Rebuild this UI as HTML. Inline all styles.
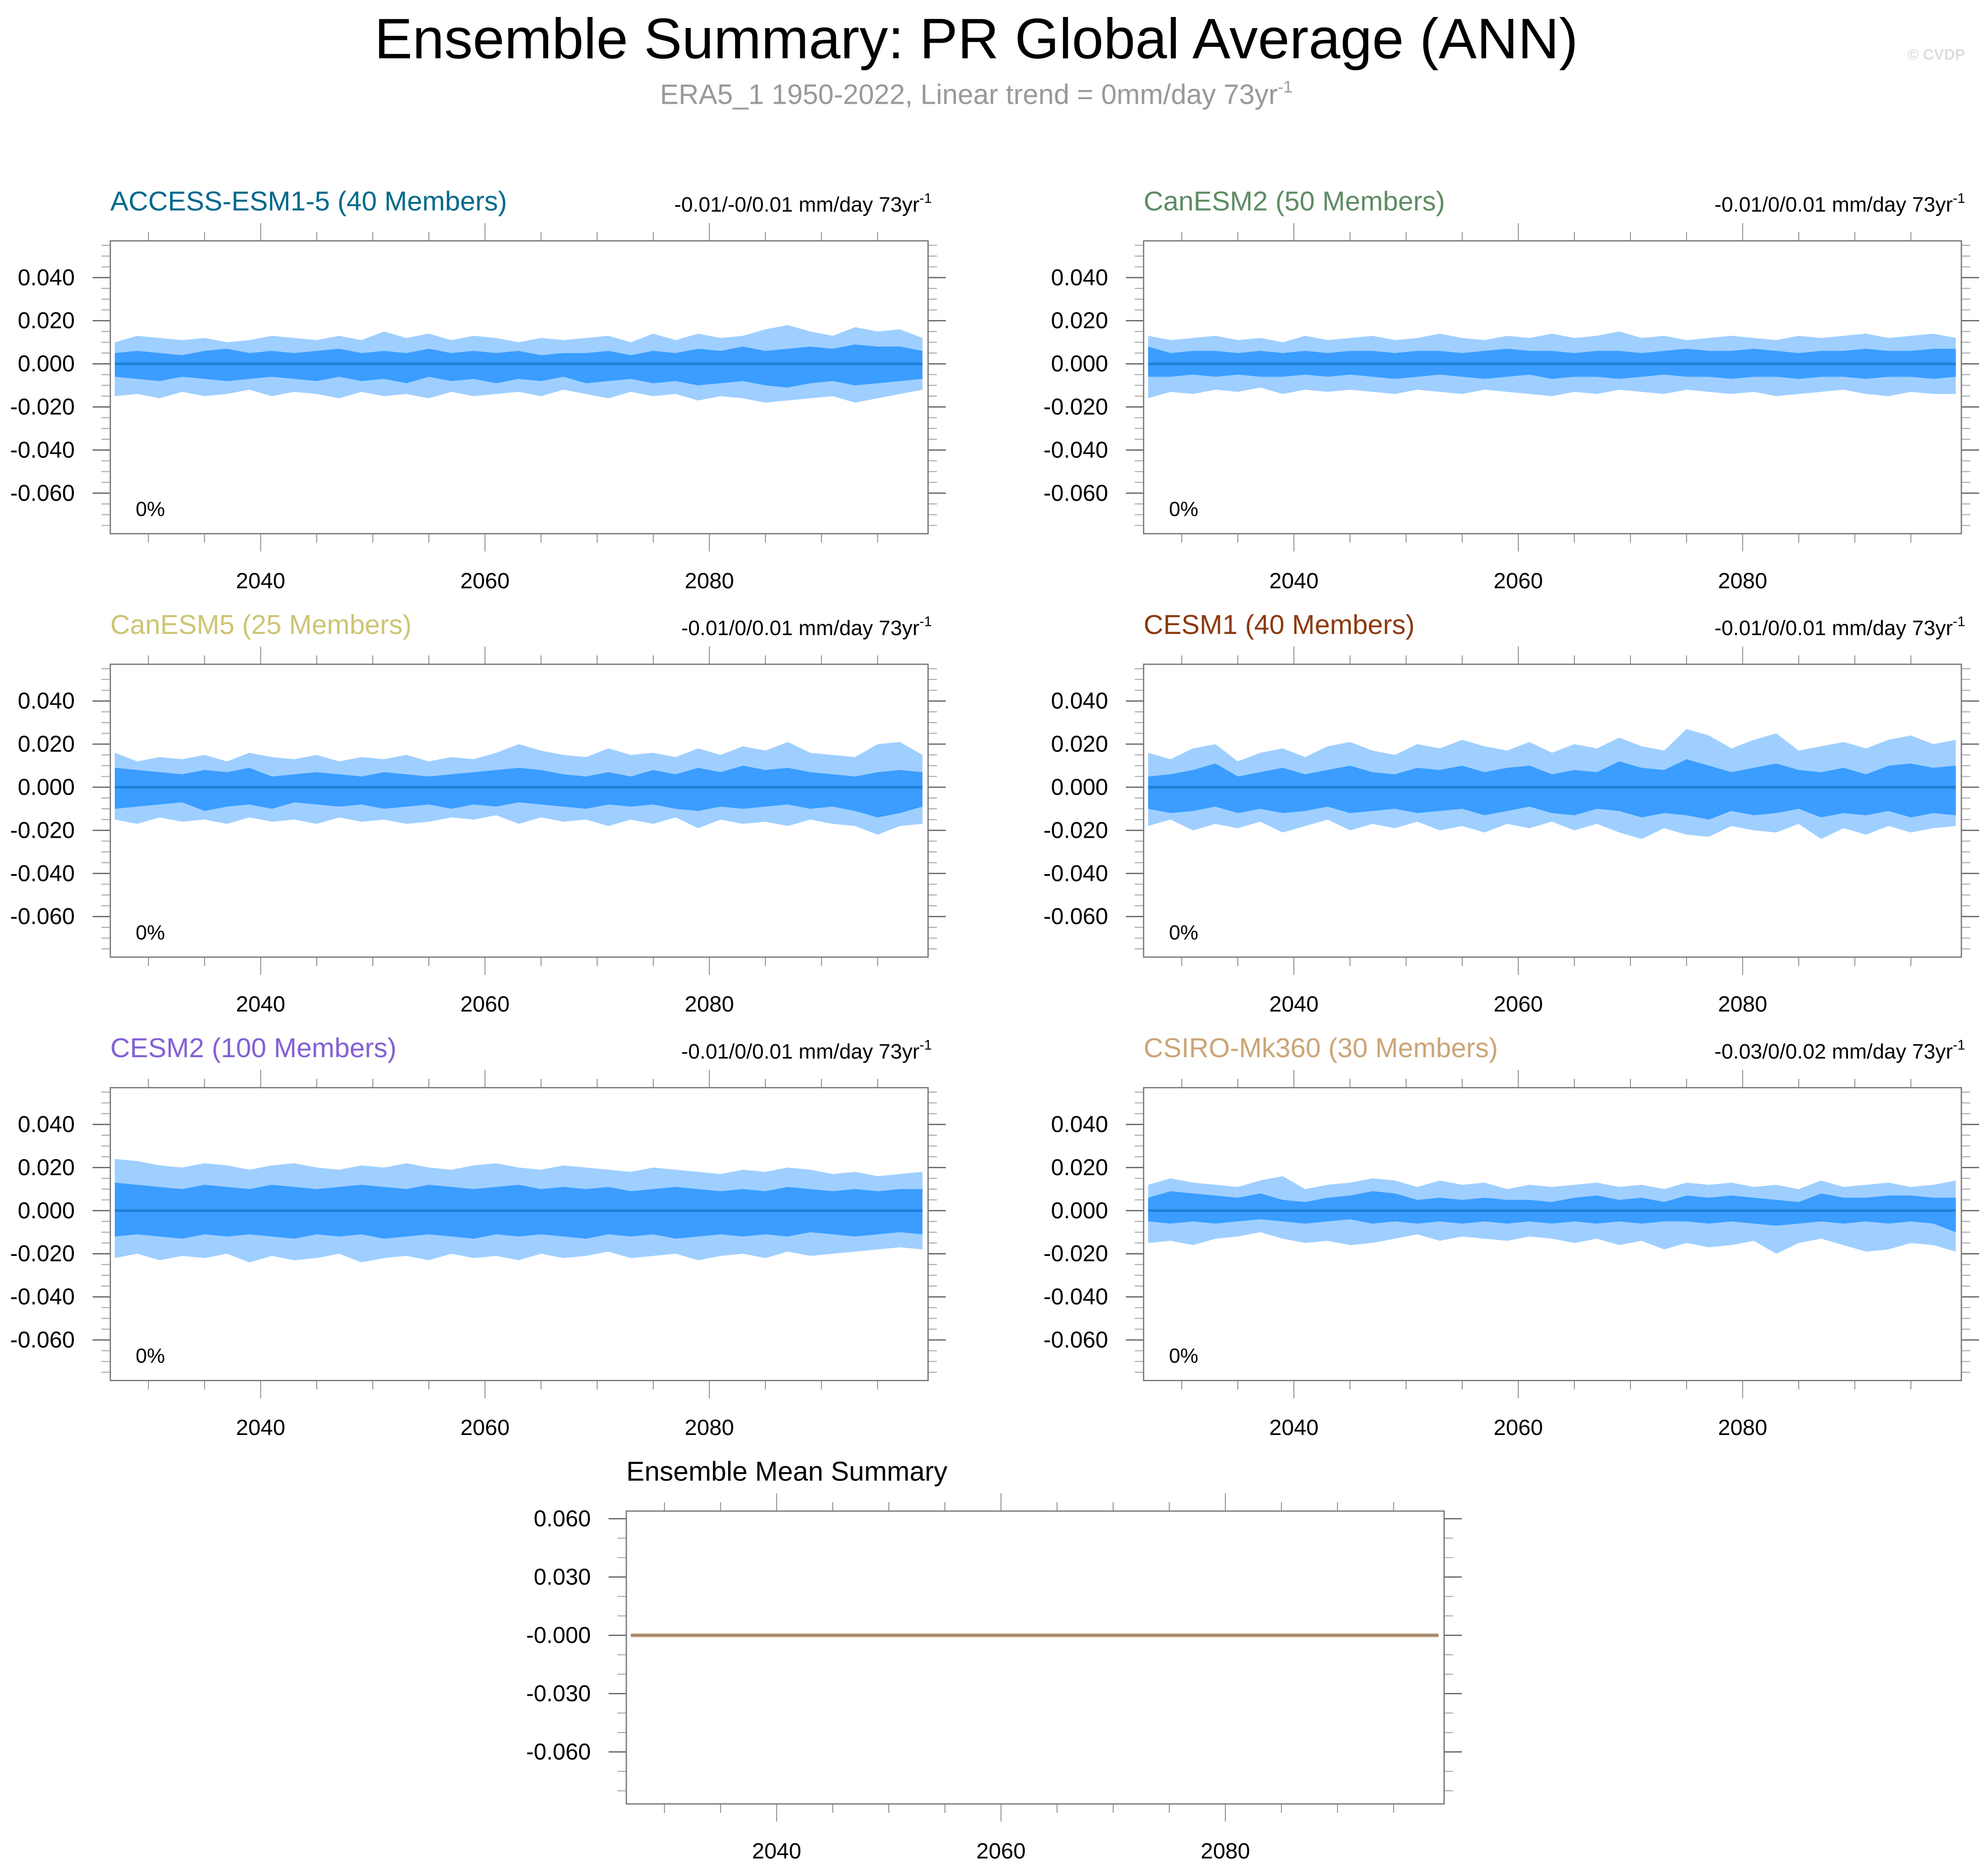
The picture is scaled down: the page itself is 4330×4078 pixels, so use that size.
<!DOCTYPE html>
<html><head><meta charset="utf-8">
<style>
html,body{margin:0;padding:0;background:#fff;}
svg{display:block;}
text{font-family:"Liberation Sans",sans-serif;}
</style></head>
<body>
<svg id="chart" width="4330" height="4078" viewBox="0 0 1568 1476.7" preserveAspectRatio="none" xmlns="http://www.w3.org/2000/svg">
<text x="770" y="46" font-size="45" text-anchor="middle" fill="#000">Ensemble Summary: PR Global Average (ANN)</text>
<text x="770" y="82" font-size="22" text-anchor="middle" fill="#999">ERA5_1 1950-2022, Linear trend = 0mm/day 73yr<tspan font-size="13" dy="-9">-1</tspan></text>
<text x="1550" y="47" font-size="12" text-anchor="end" fill="#ddd" font-weight="bold">© CVDP</text>
<g id="panels"></g>
</svg>
<script>
const years = [2027,2029,2031,2033,2035,2037,2039,2041,2043,2045,2047,2049,2051,2053,2055,2057,2059,2061,2063,2065,2067,2069,2071,2073,2075,2077,2079,2081,2083,2085,2087,2089,2091,2093,2095,2097,2099];
const xTickLabels = [2040,2060,2080];
const yTickLabels = ["0.040","0.020","0.000","-0.020","-0.040","-0.060"];
const yTickValues = [0.04,0.02,0,-0.02,-0.04,-0.06];
const meanYTickLabels = ["0.060","0.030","-0.000","-0.030","-0.060"];
const meanYTickValues = [0.06,0.03,0,-0.03,-0.06];
const modelNames = ["ACCESS-ESM1-5 (40 Members)","CanESM2 (50 Members)","CanESM5 (25 Members)","CESM1 (40 Members)","CESM2 (100 Members)","CSIRO-Mk360 (30 Members)"];
const trendTexts = ["-0.01/-0/0.01 mm/day 73yr","-0.01/0/0.01 mm/day 73yr","-0.01/0/0.01 mm/day 73yr","-0.01/0/0.01 mm/day 73yr","-0.01/0/0.01 mm/day 73yr","-0.03/0/0.02 mm/day 73yr"];
const pctTexts = ["0%","0%","0%","0%","0%","0%"];
// values in units of 0.001 mm/day
const accessOuterHi = [10,13,12,11,12,10,11,13,12,11,13,11,15,12,14,11,13,12,10,12,11,12,13,10,14,11,14,12,13,16,18,15,13,17,15,16,12];
const accessInnerHi = [5,6,5,4,6,7,5,6,5,6,7,5,6,5,7,5,6,5,6,4,5,5,6,4,6,5,7,6,8,6,7,8,7,9,8,8,6];
const accessInnerLo = [-6,-7,-8,-6,-7,-8,-7,-6,-7,-8,-6,-8,-7,-9,-6,-8,-7,-9,-7,-8,-6,-9,-8,-7,-9,-8,-10,-9,-8,-10,-11,-9,-8,-10,-9,-8,-7];
const accessOuterLo = [-15,-14,-16,-13,-15,-14,-12,-15,-13,-14,-16,-13,-15,-14,-16,-13,-15,-14,-13,-15,-12,-14,-16,-13,-15,-14,-17,-15,-16,-18,-17,-16,-15,-18,-16,-14,-12];
const canesm2OuterHi = [13,11,12,13,11,12,10,13,11,12,13,11,12,14,12,11,13,12,14,12,13,15,12,13,11,12,13,12,11,13,12,13,14,12,13,14,12];
const canesm2InnerHi = [8,5,6,6,5,6,5,6,5,6,6,5,6,6,5,6,7,6,6,5,6,6,5,6,7,6,6,7,6,5,6,6,7,6,6,7,7];
const canesm2InnerLo = [-6,-6,-5,-6,-5,-6,-6,-5,-6,-5,-6,-7,-6,-5,-6,-7,-6,-5,-7,-6,-6,-7,-6,-5,-6,-6,-7,-6,-6,-7,-6,-6,-7,-6,-6,-7,-6];
const canesm2OuterLo = [-16,-13,-14,-12,-13,-11,-14,-12,-13,-12,-13,-14,-12,-13,-14,-12,-13,-14,-15,-13,-14,-12,-13,-14,-12,-13,-14,-13,-15,-14,-13,-12,-14,-15,-13,-14,-14];
const canesm5OuterHi = [16,12,14,13,15,12,16,14,13,15,12,14,13,15,12,14,13,16,20,17,15,14,18,15,16,14,18,15,19,17,21,16,15,14,20,21,15];
const canesm5InnerHi = [9,8,7,6,8,7,9,5,6,7,6,5,7,6,5,6,7,8,9,8,6,5,7,5,8,6,9,7,10,8,9,7,6,5,7,8,7];
const canesm5InnerLo = [-10,-9,-8,-7,-11,-9,-8,-10,-7,-8,-9,-8,-10,-9,-8,-10,-8,-9,-7,-8,-9,-10,-8,-9,-8,-10,-11,-9,-10,-9,-8,-10,-9,-11,-14,-12,-9];
const canesm5OuterLo = [-15,-17,-14,-16,-15,-17,-14,-16,-15,-17,-14,-16,-15,-17,-16,-14,-15,-13,-17,-14,-16,-15,-18,-15,-17,-14,-19,-15,-17,-16,-18,-15,-17,-18,-22,-18,-17];
const cesm1OuterHi = [16,13,18,20,12,16,18,14,19,21,17,15,20,18,22,19,17,21,16,20,18,23,19,17,27,24,18,22,25,17,19,21,18,22,24,20,22];
const cesm1InnerHi = [5,6,8,11,5,7,9,6,8,10,7,6,9,8,10,7,9,10,6,8,7,12,9,8,13,10,7,9,11,8,7,9,6,10,11,9,10];
const cesm1InnerLo = [-10,-12,-11,-9,-12,-10,-12,-11,-9,-12,-11,-10,-12,-11,-10,-13,-11,-9,-12,-13,-10,-11,-14,-12,-13,-15,-11,-13,-12,-10,-14,-12,-13,-11,-14,-12,-13];
const cesm1OuterLo = [-18,-15,-20,-17,-19,-16,-21,-18,-15,-20,-17,-19,-16,-20,-18,-21,-17,-19,-16,-20,-17,-21,-24,-19,-22,-23,-18,-20,-21,-17,-24,-19,-22,-18,-21,-19,-18];
const cesm2OuterHi = [24,23,21,20,22,21,19,21,22,20,19,21,20,22,20,19,21,22,20,19,21,20,19,18,20,19,18,17,19,18,20,19,17,18,16,17,18];
const cesm2InnerHi = [13,12,11,10,12,11,10,12,11,10,11,12,11,10,12,11,10,11,12,10,11,10,11,9,10,11,10,9,10,9,11,10,9,10,9,10,10];
const cesm2InnerLo = [-12,-11,-12,-13,-11,-12,-11,-12,-13,-11,-12,-11,-13,-12,-11,-12,-13,-11,-12,-11,-12,-13,-11,-12,-11,-13,-12,-11,-12,-11,-12,-10,-11,-12,-11,-10,-11];
const cesm2OuterLo = [-22,-20,-23,-21,-22,-20,-24,-21,-23,-22,-20,-24,-22,-21,-23,-20,-22,-21,-23,-20,-22,-21,-19,-22,-21,-20,-23,-21,-20,-22,-19,-21,-20,-19,-18,-17,-18];
const csiroOuterHi = [12,15,13,12,11,14,16,10,12,13,15,14,11,14,12,13,10,12,11,12,13,11,12,10,13,12,13,11,12,10,14,11,12,13,11,12,14];
const csiroInnerHi = [6,9,8,7,6,8,5,4,6,7,9,8,5,6,5,6,5,5,4,6,7,5,6,4,7,6,7,6,5,4,8,6,6,7,7,6,6];
const csiroInnerLo = [-5,-6,-5,-6,-5,-4,-5,-6,-5,-4,-6,-5,-6,-5,-6,-5,-6,-5,-6,-5,-6,-5,-6,-5,-5,-6,-5,-6,-7,-6,-5,-6,-5,-6,-5,-6,-10];
const csiroOuterLo = [-15,-14,-16,-13,-12,-10,-13,-15,-14,-16,-15,-13,-11,-14,-12,-13,-14,-12,-13,-15,-13,-16,-14,-18,-15,-17,-16,-14,-20,-15,-13,-16,-19,-18,-15,-16,-19];
const ensembleMean = [0,0,0,0,0,0,0,0,0,0,0,0,0,0,0,0,0,0,0,0,0,0,0,0,0,0,0,0,0,0,0,0,0,0,0,0,0];

const NS="http://www.w3.org/2000/svg";
const root=document.getElementById('panels');
function mk(tag,attrs,parent){const e=document.createElementNS(NS,tag);for(const k in attrs)e.setAttribute(k,attrs[k]);(parent||root).appendChild(e);return e;}
const bands=[[accessOuterHi,accessInnerHi,accessInnerLo,accessOuterLo],[canesm2OuterHi,canesm2InnerHi,canesm2InnerLo,canesm2OuterLo],[canesm5OuterHi,canesm5InnerHi,canesm5InnerLo,canesm5OuterLo],[cesm1OuterHi,cesm1InnerHi,cesm1InnerLo,cesm1OuterLo],[cesm2OuterHi,cesm2InnerHi,cesm2InnerLo,cesm2OuterLo],[csiroOuterHi,csiroInnerHi,csiroInnerLo,csiroOuterLo]];
const titleColors=["#00698c","#5e8c63","#cdc574","#8b3a0e","#8460d4","#cba577"];
const W=645,H=231,X0=2026.6,X1=2099.5;
const origins=[[87,190],[902,190],[87,524],[902,524],[87,858],[902,858]];

function axes(g,ox,oy,yOf,vmin,vmax,minorStep,majVals,majLabels){
  const xOf=y=>ox+(y-X0)/(X1-X0)*W;
  for(let yr=2030;yr<=2095;yr+=5){
    const major=yr%20===0;const len=major?14:7;const x=xOf(yr);
    let t=mk('line',{x1:x,x2:x,y1:oy,y2:oy-len,stroke:'#777','stroke-width':0.6},g);
    
    t=mk('line',{x1:x,x2:x,y1:oy+H,y2:oy+H+len,stroke:'#777','stroke-width':0.6},g);
    
  }
  xTickLabels.forEach(v=>{const t=mk('text',{x:xOf(v),y:oy+H+43,'font-size':17.5,'text-anchor':'middle'},g);t.textContent=v;
    });
  const n0=Math.ceil(vmin/minorStep-1e-6),n1=Math.floor(vmax/minorStep+1e-6);
  for(let i=n0;i<=n1;i++){const v=i*minorStep;const y=yOf(v);
    const major=majVals.some(m=>Math.abs(m-v)<1e-9);const len=major?14:7;
    let t=mk('line',{x1:ox,x2:ox-len,y1:y,y2:y,stroke:major?'#666':'#aaa','stroke-width':major?1:0.8},g);
    
    t=mk('line',{x1:ox+W,x2:ox+W+len,y1:y,y2:y,stroke:major?'#666':'#aaa','stroke-width':major?1:0.8},g);
    }
  majVals.forEach((v,i)=>{const t=mk('text',{x:ox-28,y:yOf(v)+6,'font-size':18,'text-anchor':'end'},g);t.textContent=majLabels[i];
    });
  const b=mk('rect',{x:ox,y:oy,width:W,height:H,fill:'none',stroke:'#777','stroke-width':1},g);
  
  return xOf;
}
function poly(xs,hi,lo){let p=[];xs.forEach((x,i)=>p.push(x+','+hi[i]));for(let i=xs.length-1;i>=0;i--)p.push(xs[i]+','+lo[i]);return p.join(' ');}

origins.forEach((o,k)=>{
  const [ox,oy]=o;const g=mk('g',{});
  
  const zero=oy+97;const yOf=v=>zero-v*1700;
  const vmax=(zero-oy)/1700,vmin=(zero-oy-H)/1700;
  const xOf=(y=>ox+(y-X0)/(X1-X0)*W);
  const xs=years.map(xOf);
  const [oh,ih,il,ol]=bands[k];
  let p=mk('polygon',{points:poly(xs,oh.map(v=>yOf(v/1000)),ol.map(v=>yOf(v/1000))),fill:'#9fcfff'},g);
  
  p=mk('polygon',{points:poly(xs,ih.map(v=>yOf(v/1000)),il.map(v=>yOf(v/1000))),fill:'#3a9dff'},g);
  
  p=mk('polyline',{points:xs.map((x,i)=>x+','+yOf(ensembleMean[i])).join(' '),fill:'none',stroke:'#1f7fd6','stroke-width':2},g);
  
  axes(g,ox,oy,yOf,vmin,vmax,0.005,yTickValues,yTickLabels);
  let t=mk('text',{x:ox,y:oy-24,'font-size':21.5,fill:titleColors[k]},g);t.textContent=modelNames[k];
  
  t=mk('text',{x:ox+W+3,y:oy-23,'font-size':16.5,'text-anchor':'end'},g);t.textContent=trendTexts[k];
  
  const s=mk('tspan',{'font-size':11,dy:-7},t);s.textContent='-1';
  t=mk('text',{x:ox+20,y:oy+217,'font-size':16},g);t.textContent=pctTexts[k];
  
});

(function(){
  const ox=494,oy=1192,W2=645,H2=229;const g=mk('g',{});
  
  const zero=1290;const yOf=v=>zero-v*1533;
  const vmax=(zero-oy)/1533,vmin=(zero-oy-H2)/1533;
  const xOf=y=>ox+(y-X0)/(X1-X0)*W2;
  const xs=years.map(xOf);
  let l=mk('polyline',{points:xs.map((x,i)=>x+','+yOf(ensembleMean[i]/1000)).join(' '),fill:'none',stroke:'#c9a77e','stroke-width':3},g);
  
  l=mk('polyline',{points:xs.map((x,i)=>x+','+yOf(ensembleMean[i]/1000)).join(' '),fill:'none',stroke:'#8a7a6a','stroke-width':1},g);
  
  axes(g,ox,oy,yOf,vmin,vmax,0.01,meanYTickValues,meanYTickLabels);
  const t=mk('text',{x:ox,y:oy-24,'font-size':21.5,fill:'#000'},g);t.textContent='Ensemble Mean Summary';
  
})();
</script>
</body></html>
